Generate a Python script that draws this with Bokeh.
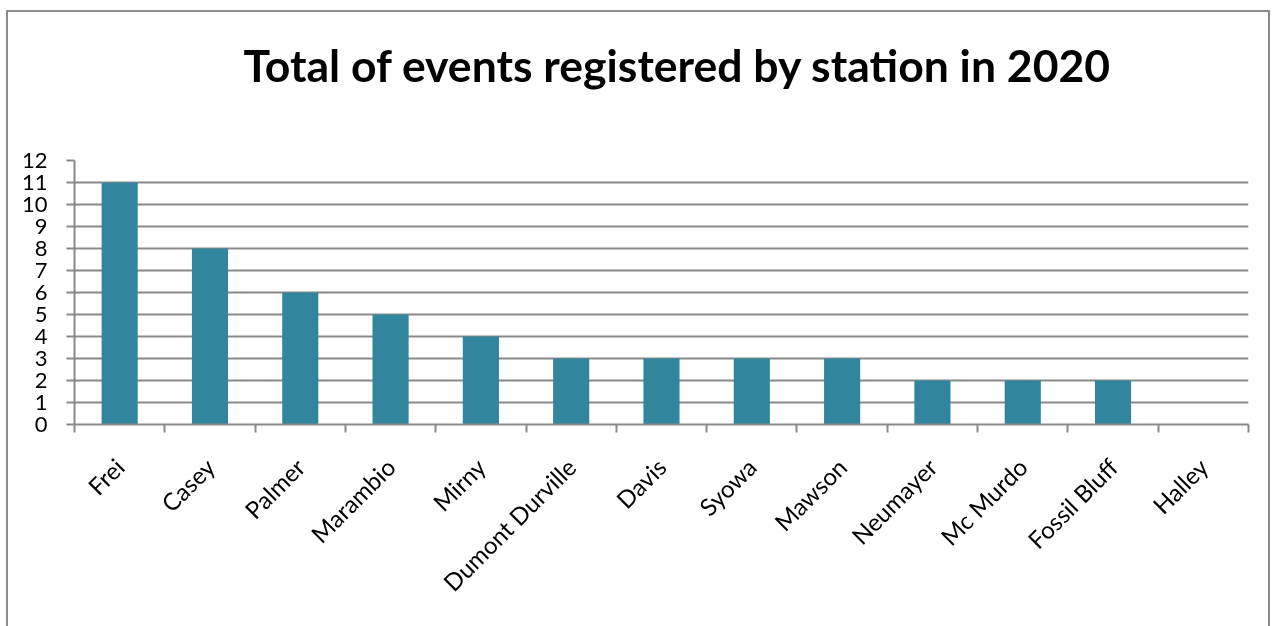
from math import pi
from bokeh.plotting import figure
from bokeh.models import Range1d, LinearAxis, FixedTicker, Title, ColumnDataSource
from bokeh.embed import file_html
from bokeh.resources import INLINE

# ---- data ----
stations = ["Frei", "Casey", "Palmer", "Marambio", "Mirny", "Dumont Durville",
            "Davis", "Syowa", "Mawson", "Neumayer", "Mc Murdo", "Fossil Bluff",
            "Halley"]
events = [11, 8, 6, 5, 4, 3, 3, 3, 3, 2, 2, 2, 0]
y_ticks = list(range(0, 13))
title_text = "Total of events registered by station in 2020"

BAR = "#31859C"
GRID = "#898989"
FONT = "Lato"

n = len(stations)
centers = [i + 0.5 for i in range(n)]
src = ColumnDataSource(dict(x=centers, top=events, name=stations))

p = figure(width=1274, height=699, output_backend="svg", toolbar_location=None,
           x_range=Range1d(0, n), y_range=Range1d(0, 12),
           x_axis_location=None, y_axis_location=None,
           min_border_left=74, min_border_right=26,
           min_border_top=215, min_border_bottom=220)
p.outline_line_color = None
p.background_fill_color = "white"
p.border_fill_color = "white"
p.styles = {"position": "fixed", "top": "-55px", "left": "0px"}
p.stylesheets = [":host::after { content: ''; position: absolute; left: 6px; "
                 "top: 65px; right: 4px; bottom: -20px; border: 2px solid #8c8c8c; "
                 "border-bottom: none; pointer-events: none; z-index: 100; }"]

p.title = Title(text=title_text, text_font=FONT, text_font_size="44.5px",
                text_font_style="bold", text_color="black", align="left",
                offset=169, standoff=140)

p.vbar(x="x", top="top", width=0.4, source=src, color=BAR, line_color=None)

# y axis
yax = LinearAxis(ticker=FixedTicker(ticks=y_ticks))
yax.axis_line_color = GRID
yax.axis_line_width = 2
yax.major_tick_line_color = GRID
yax.major_tick_line_width = 2
yax.major_tick_out = 8
yax.major_tick_in = 0
yax.minor_tick_line_color = None
yax.major_label_standoff = 19
yax.major_label_text_font = FONT
yax.major_label_text_font_size = "22px"
yax.major_label_text_color = "black"
p.add_layout(yax, "left")

# boundary ticks (Excel style)
tax = LinearAxis(ticker=FixedTicker(ticks=list(range(0, n + 1))))
tax.axis_line_color = GRID
tax.axis_line_width = 2
tax.major_tick_line_color = GRID
tax.major_tick_line_width = 2
tax.major_tick_out = 8
tax.major_tick_in = 0
tax.minor_tick_line_color = None
tax.major_label_text_font_size = "0px"
tax.major_label_standoff = 0
p.add_layout(tax, "below")

# category labels at centres
cax = LinearAxis(ticker=FixedTicker(ticks=centers))
cax.major_label_overrides = {c: s for c, s in zip(centers, stations)}
cax.axis_line_color = None
cax.major_tick_line_color = None
cax.minor_tick_line_color = None
cax.major_tick_out = 0
cax.major_label_orientation = pi / 4
cax.major_label_standoff = 30
cax.major_label_text_font = FONT
cax.major_label_text_font_size = "24px"
cax.major_label_text_color = "black"
p.add_layout(cax, "below")

p.xgrid.grid_line_color = None
p.ygrid.grid_line_color = GRID
p.ygrid.grid_line_width = 2
p.ygrid.ticker = FixedTicker(ticks=y_ticks)

open("out.html", "w").write(file_html(p, INLINE))
